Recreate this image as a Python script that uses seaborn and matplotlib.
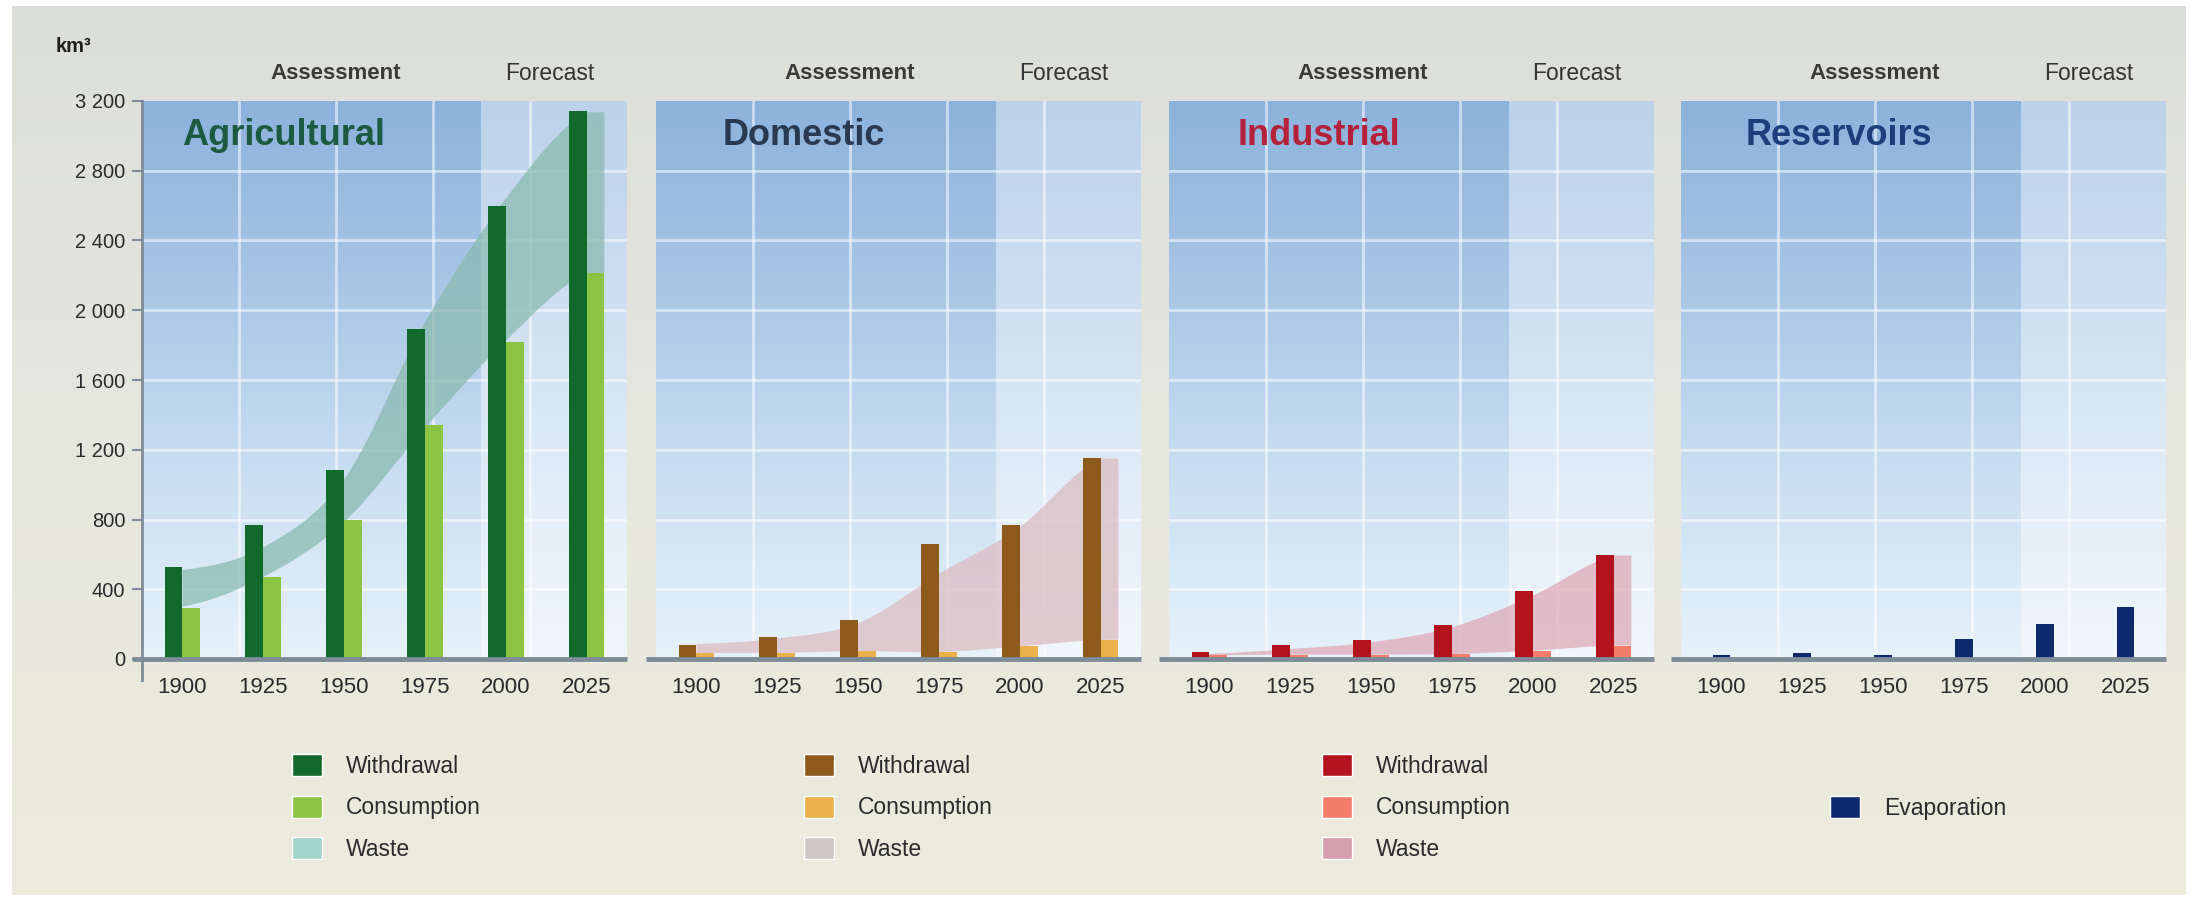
import numpy as np
import pandas as pd
import matplotlib
matplotlib.use("Agg")
import matplotlib.pyplot as plt
import seaborn as sns
from matplotlib.path import Path
from matplotlib.patches import PathPatch, Patch
from matplotlib.colors import LinearSegmentedColormap
from matplotlib.ticker import FuncFormatter, FixedLocator
import matplotlib.transforms as mtransforms

# ---------------- data (km3 per year) ----------------
years = ["1900", "1925", "1950", "1975", "2000", "2025"]

agri_withdrawal = [525, 770, 1085, 1890, 2595, 3145]
agri_consumption = [290, 470, 800, 1340, 1820, 2215]
agri_waste_top = [510, 640, 1030, 1930, 2640, 3135]
agri_waste_bottom = [300, 470, 785, 1325, 1825, 2210]

dom_withdrawal = [82, 125, 225, 660, 768, 1155]
dom_consumption = [35, 35, 45, 38, 72, 110]
dom_waste_top = [86, 118, 205, 488, 756, 1150]
dom_waste_bottom = [35, 35, 45, 40, 72, 110]

ind_withdrawal = [38, 82, 108, 195, 388, 598]
ind_consumption = [22, 25, 25, 28, 48, 77]
ind_waste_top = [30, 57, 96, 182, 363, 593]
ind_waste_bottom = [22, 25, 25, 28, 48, 77]

res_evaporation = [25, 35, 25, 113, 203, 298]

y_ticks = [0, 400, 800, 1200, 1600, 2000, 2400, 2800, 3200]

sectors = [
    dict(title="Agricultural", title_color="#1d5a40",
         withdrawal=agri_withdrawal, consumption=agri_consumption,
         waste_top=agri_waste_top, waste_bottom=agri_waste_bottom,
         colors=("#11692c", "#8cc443"), band="#88b9ae", band_alpha=0.72,
         legend_waste="#a2d4ca", title_x=1.25),
    dict(title="Domestic", title_color="#2a3850",
         withdrawal=dom_withdrawal, consumption=dom_consumption,
         waste_top=dom_waste_top, waste_bottom=dom_waste_bottom,
         colors=("#8e5a1c", "#eab04a"), band="#dcbcc2", band_alpha=0.75,
         legend_waste="#cdc8c1", title_x=1.33),
    dict(title="Industrial", title_color="#b4213a",
         withdrawal=ind_withdrawal, consumption=ind_consumption,
         waste_top=ind_waste_top, waste_bottom=ind_waste_bottom,
         colors=("#b3131c", "#f47c6a"), band="#dda5b3", band_alpha=0.7,
         legend_waste="#d49eac", title_x=1.35),
    dict(title="Reservoirs", title_color="#1c3f7c",
         evaporation=res_evaporation, colors=("#0e2a6c",), title_x=1.45),
]

# ---------------- style ----------------
sns.set_style("white")
plt.rcParams["font.family"] = ["Liberation Sans", "DejaVu Sans"]
TEXT = "#2b2b2b"
AXIS = "#7d8c98"

W, H = 2198, 899
fig = plt.figure(figsize=(W / 100, H / 100), dpi=100, facecolor="white")

# page background: soft grey-beige box
bg = fig.add_axes([0, 0, 1, 1], zorder=-10)
bg.set_xlim(0, W)
bg.set_ylim(H, 0)
bg.set_axis_off()
bg_cmap = LinearSegmentedColormap.from_list("page", ["#dcdfd9", "#e6e7dd", "#ecebdc"])
bg.imshow(np.linspace(0, 1, 256)[:, None], cmap=bg_cmap, aspect="auto",
          extent=[12, 2186, 895, 6], interpolation="bicubic")

panel_cmap = LinearSegmentedColormap.from_list(
    "panel", ["#e7f2fa", "#c9def1", "#a9c6e6", "#8cb2dc"])

lefts = [142, 656, 1169, 1681]
pw, top_px, base_px = 485, 101, 659
fc_start = 3.7


def fmt_thousands(v, _):
    return f"{int(v):,}".replace(",", " ")


def bezier_edge(xs, ys):
    """Cubic Bezier segments through (xs, ys) with Catmull-Rom style tangents."""
    n = len(xs)
    m = []
    for i in range(n):
        if i == 0:
            m.append(0.5 * (ys[1] - ys[0]))
        elif i == n - 1:
            m.append(0.5 * (ys[-1] - ys[-2]))
        else:
            m.append(0.5 * (ys[i + 1] - ys[i - 1]))
    segs = []
    for i in range(n - 1):
        dx = xs[i + 1] - xs[i]
        c1 = (xs[i] + dx / 3, ys[i] + m[i] / 3)
        c2 = (xs[i + 1] - dx / 3, ys[i + 1] - m[i + 1] / 3)
        segs.append(((xs[i], ys[i]), c1, c2, (xs[i + 1], ys[i + 1])))
    return segs


def band_patch(top, bottom, x_end, color, alpha):
    xs = list(range(len(top)))
    verts, codes = [(xs[0], top[0])], [Path.MOVETO]
    for p0, c1, c2, p3 in bezier_edge(xs, top):
        verts += [c1, c2, p3]
        codes += [Path.CURVE4] * 3
    verts += [(x_end, top[-1]), (x_end, bottom[-1]), (xs[-1], bottom[-1])]
    codes += [Path.LINETO] * 3
    for p0, c1, c2, p3 in reversed(bezier_edge(xs, bottom)):
        verts += [c2, c1, p0]
        codes += [Path.CURVE4] * 3
    verts.append((xs[0], top[0]))
    codes.append(Path.CLOSEPOLY)
    return PathPatch(Path(verts, codes), facecolor=color, edgecolor="none",
                     alpha=alpha, zorder=2)


axes = []
for k, (s, left) in enumerate(zip(sectors, lefts)):
    ax = fig.add_axes([left / W, (H - base_px) / H, pw / W, (base_px - top_px) / H])
    axes.append(ax)
    ax.set_facecolor("none")

    # vertical blue gradient and lighter forecast zone
    ax.imshow(np.linspace(0, 1, 256)[:, None], cmap=panel_cmap, origin="lower",
              aspect="auto", extent=[-0.5, 5.5, 0, 3200], zorder=0,
              interpolation="bicubic")
    ax.axvspan(fc_start, 5.5, facecolor="white", alpha=0.42, lw=0, zorder=0.5)

    # white grid
    for y in y_ticks[1:-1]:
        ax.axhline(y, color="white", alpha=0.55, lw=2, zorder=1)
    for f in (0.2, 0.4, 0.6, 0.8):
        ax.axvline(-0.5 + 6 * f, color="white", alpha=0.55, lw=2, zorder=1)

    if "evaporation" in s:
        df = pd.DataFrame({"year": years, "value": s["evaporation"]})
        sns.barplot(data=df, x="year", y="value", order=years, color=s["colors"][0],
                    saturation=1, width=0.22, errorbar=None, ax=ax, zorder=3)
    else:
        ax.add_patch(band_patch(s["waste_top"], s["waste_bottom"], 5.22,
                                s["band"], s["band_alpha"]))
        df = pd.DataFrame({
            "year": years * 2,
            "kind": ["Withdrawal"] * 6 + ["Consumption"] * 6,
            "value": s["withdrawal"] + s["consumption"],
        })
        sns.barplot(data=df, x="year", y="value", hue="kind", order=years,
                    hue_order=["Withdrawal", "Consumption"],
                    palette=list(s["colors"]), saturation=1, width=0.44,
                    dodge=True, errorbar=None, legend=False, ax=ax, zorder=3)

    for bar in ax.patches:
        bar.set_edgecolor("none")

    ax.set_xlim(-0.5, 5.5)
    ax.set_ylim(0, 3200)
    ax.set_xlabel("")
    ax.set_ylabel("")
    ax.grid(False)
    for sp in ax.spines.values():
        sp.set_visible(False)

    # baseline
    ax.plot([-0.62, 5.5], [0, 0], color=AXIS, lw=3.5, clip_on=False, zorder=6,
            solid_capstyle="butt")

    ax.tick_params(axis="x", length=0, pad=13, labelsize=16, labelcolor=TEXT)
    if k == 0:
        ax.spines["left"].set_visible(True)
        ax.spines["left"].set_color(AXIS)
        ax.spines["left"].set_linewidth(2)
        ax.spines["left"].set_bounds(-120, 3200)
        ax.yaxis.set_major_locator(FixedLocator(y_ticks))
        ax.yaxis.set_major_formatter(FuncFormatter(fmt_thousands))
        ax.tick_params(axis="y", length=7, width=1.5, color=AXIS, pad=5,
                       labelsize=14.5, labelcolor=TEXT, left=True)
    else:
        ax.set_yticks([])

    blend = mtransforms.blended_transform_factory(ax.transData, ax.transAxes)
    ax.text(1.9, 1.05, "Assessment", transform=blend, ha="center", va="center",
            fontsize=16, fontweight="bold", color="#3a3a3a")
    ax.text(4.55, 1.05, "Forecast", transform=blend, ha="center", va="center",
            fontsize=16.5, color="#333333")
    ax.text(s["title_x"], 0.938, s["title"], transform=blend, ha="center",
            va="center", fontsize=26, fontweight="bold", color=s["title_color"],
            zorder=7)

fig.text(73 / W, 1 - 46 / H, "km³", ha="center", va="center", fontsize=14.5,
         fontweight="bold", color="#1e1e1e")

# ---------------- legends ----------------
leg_x = [292, 804, 1322, 1830]
for k, s in enumerate(sectors):
    if "evaporation" in s:
        handles = [Patch(facecolor=s["colors"][0])]
        labels = ["Evaporation"]
        top_y = 807 - 11
    else:
        handles = [Patch(facecolor=s["colors"][0]), Patch(facecolor=s["colors"][1]),
                   Patch(facecolor=s["legend_waste"])]
        labels = ["Withdrawal", "Consumption", "Waste"]
        top_y = 765 - 11
    fig.legend(handles, labels, loc="upper left",
               bbox_to_anchor=(leg_x[k] / W, 1 - top_y / H),
               frameon=False, fontsize=16.5, labelcolor=TEXT,
               handlelength=1.3, handleheight=1.1, handletextpad=1.05,
               labelspacing=0.78, borderpad=0, borderaxespad=0)

fig.savefig("out.png", dpi=100, facecolor="white")
